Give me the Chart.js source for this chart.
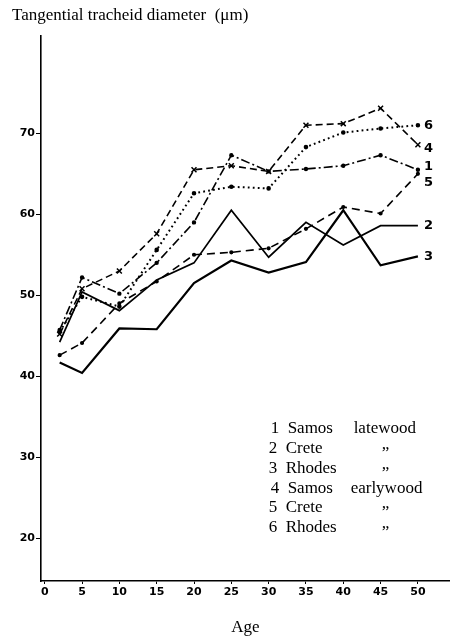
<!DOCTYPE html>
<html>
<head>
<meta charset="utf-8">
<script src="https://cdn.jsdelivr.net/npm/chart.js@4.4.1/dist/chart.umd.min.js"></script>
<style>
  html, body { margin: 0; padding: 0; background: #fff; }
  canvas { display: block; }
</style>
</head>
<body>
<canvas id="c" width="450" height="641"></canvas>
<script>
// ---- data ----
const ages = [2, 5, 10, 15, 20, 25, 30, 35, 40, 45, 50];
const samosLatewood   = [45.7, 52.2, 50.2, 54.0, 59.0, 67.3, 65.3, 65.6, 66.0, 67.3, 65.5];
const creteLatewood   = [44.2, 50.4, 48.1, 51.9, 54.0, 60.5, 54.7, 59.0, 56.2, 58.6, 58.6];
const rhodesLatewood  = [41.7, 40.4, 45.9, 45.8, 51.5, 54.3, 52.8, 54.1, 60.5, 53.7, 54.8];
const samosEarlywood  = [45.2, 50.8, 53.0, 57.6, 65.5, 66.0, 65.3, 71.0, 71.2, 73.1, 68.6];
const creteEarlywood  = [42.6, 44.1, 49.0, 51.7, 55.0, 55.3, 55.8, 58.2, 60.9, 60.1, 65.0];
const rhodesEarlywood = [45.5, 49.8, 48.6, 55.6, 62.6, 63.4, 63.2, 68.3, 70.1, 70.6, 71.0];
const seriesNumbers = ['1', '2', '3', '4', '5', '6'];
const xTicks = [0, 5, 10, 15, 20, 25, 30, 35, 40, 45, 50];
const yTicks = [20, 30, 40, 50, 60, 70];
const legendRows = [
  ['1', 'Samos', 'latewood'],
  ['2', 'Crete', '\u201E'],
  ['3', 'Rhodes', '\u201E'],
  ['4', 'Samos', 'earlywood'],
  ['5', 'Crete', '\u201E'],
  ['6', 'Rhodes', '\u201E']
];
const yTitle = 'Tangential tracheid diameter  (\u03BCm)';
const xTitle = 'Age';

const pts = vals => vals.map((v, i) => ({ x: ages[i], y: v }));

const base = { borderColor: '#000', backgroundColor: '#000', borderWidth: 1.6, fill: false, tension: 0, pointBorderColor: '#000', pointBackgroundColor: '#000' };

const datasets = [
  Object.assign({}, base, { label: '1', data: pts(samosLatewood), borderDash: [9, 3, 2, 3], pointRadius: 1.4 }),
  Object.assign({}, base, { label: '2', data: pts(creteLatewood), borderWidth: 1.7, pointRadius: 0 }),
  Object.assign({}, base, { label: '3', data: pts(rhodesLatewood), borderWidth: 2.2, pointRadius: 0 }),
  Object.assign({}, base, { label: '4', data: pts(samosEarlywood), borderDash: [7, 4], pointStyle: 'crossRot', pointRadius: 3.5, pointBorderWidth: 1.5 }),
  Object.assign({}, base, { label: '5', data: pts(creteEarlywood), borderDash: [8, 5], pointRadius: 1.3 }),
  Object.assign({}, base, { label: '6', data: pts(rhodesEarlywood), borderDash: [1.8, 3.2], borderWidth: 2, pointRadius: 1.3 })
];

const labelNudge = [-3, 0, 0, 4, 9, 0];
const serif = '"Liberation Serif", "Times New Roman", serif';

const annotations = {
  id: 'annotations',
  afterDatasetsDraw(chart) {
    const ctx = chart.ctx;
    ctx.save();
    ctx.fillStyle = '#000';
    // end-of-line series numbers
    ctx.font = 'bold 13px "DejaVu Sans", sans-serif';
    ctx.textAlign = 'left';
    ctx.textBaseline = 'middle';
    chart.data.datasets.forEach((ds, i) => {
      const meta = chart.getDatasetMeta(i);
      const last = meta.data[meta.data.length - 1];
      ctx.fillText(seriesNumbers[i], last.x + 6, last.y + labelNudge[i]);
    });
    // key text
    const xs = chart.scales.x, ys = chart.scales.y;
    const x0 = xs.getPixelForValue(30.0);
    const yTop = ys.getPixelForValue(33.5);
    ctx.font = '17px ' + serif;
    legendRows.forEach((row, i) => {
      const y = yTop + i * 19.8;
      const shift = (row[1] === 'Samos') ? 2 : 0;
      ctx.fillText(row[0], x0 + shift, y);
      ctx.fillText(row[1], x0 + 17 + shift, y);
      if (row[2] === '\u201E') {
        ctx.fillText(row[2], x0 + 113, y - 4);
      } else {
        ctx.fillText(row[2], x0 + (row[2] === 'latewood' ? 85 : 82), y);
      }
    });
    ctx.restore();
  }
};

new Chart(document.getElementById('c'), {
  type: 'line',
  data: { datasets },
  plugins: [annotations],
  options: {
    responsive: false,
    animation: false,
    devicePixelRatio: 1,
    layout: { autoPadding: false, padding: { left: 12, right: 0, top: 0, bottom: 0 } },
    plugins: {
      legend: { display: false },
      tooltip: { enabled: false },
      title: {
        display: true,
        text: yTitle,
        align: 'start',
        color: '#000',
        font: { family: serif, size: 17, weight: 'normal' },
        padding: { top: 5, bottom: 10 }
      }
    },
    scales: {
      x: {
        type: 'linear',
        min: -0.5,
        max: 54.3,
        border: { display: true, color: '#000', width: 1.6 },
        grid: { display: true, drawOnChartArea: false, drawTicks: true, tickLength: 3, color: '#000', lineWidth: 1 },
        afterBuildTicks: s => { s.ticks = xTicks.map(v => ({ value: v })); },
        afterFit: s => { s.height = 60; s.paddingLeft = 0; s.paddingRight = 0; },
        ticks: {
          color: '#000',
          padding: 2,
          autoSkip: false,
          maxRotation: 0,
          font: { family: '"DejaVu Sans", sans-serif', size: 11, weight: 'bold' }
        },
        title: {
          display: true,
          text: xTitle,
          color: '#000',
          font: { family: serif, size: 17 },
          padding: { top: 4, bottom: 3 }
        }
      },
      y: {
        type: 'linear',
        min: 14.7,
        max: 82.1,
        border: { display: true, color: '#000', width: 1.6 },
        grid: { display: true, drawOnChartArea: false, drawTicks: true, tickLength: 5, color: '#000', lineWidth: 1 },
        afterBuildTicks: s => { s.ticks = yTicks.map(v => ({ value: v })); },
        afterFit: s => { s.width = 29; },
        ticks: {
          color: '#000',
          padding: 1,
          font: { family: '"DejaVu Sans", sans-serif', size: 11, weight: 'bold' }
        }
      }
    }
  }
});
</script>
</body>
</html>
